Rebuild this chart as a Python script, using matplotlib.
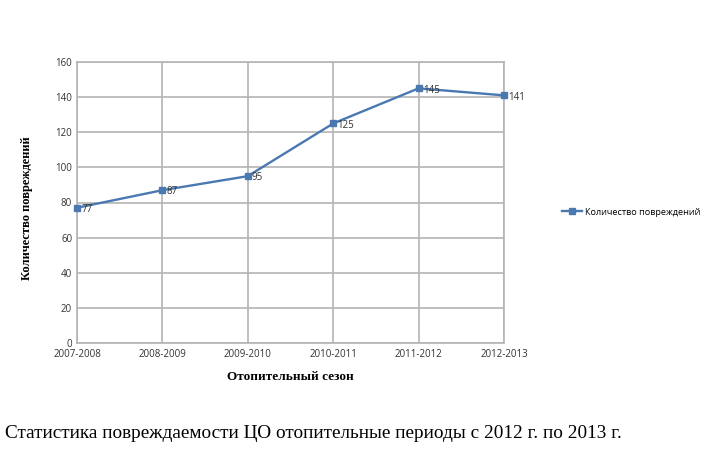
import matplotlib
matplotlib.use('Agg')
import matplotlib.pyplot as plt
import numpy as np

seasons = ['2007-2008', '2008-2009', '2009-2010', '2010-2011', '2011-2012', '2012-2013']
damages = [77, 87, 95, 125, 145, 141]
series_name = 'Количество повреждений'
x_title = 'Отопительный сезон'
y_title = 'Количество повреждений'
caption = 'Статистика повреждаемости ЦО отопительные периоды с 2012 г. по 2013 г.'

line_color = '#4a78b0'
grid_color = '#b4b4b4'

fig = plt.figure(figsize=(7.11, 4.54), dpi=100)
ax = fig.add_axes([77 / 711, 1 - 343 / 454, (504 - 77) / 711, (343 - 62) / 454])

x = np.arange(len(seasons))
ax.plot(x, damages, color=line_color, linewidth=1.7, marker='s', markersize=5,
        label=series_name, zorder=3, clip_on=False)
for xi, v in zip(x, damages):
    ax.annotate(str(v), (xi, v), xytext=(3, -3), textcoords='offset points',
                fontsize=7, color='#333333', family='Open Sans')

ax.set_xlim(0, len(seasons) - 1)
ax.set_ylim(0, 160)
ax.set_yticks(range(0, 161, 20))
ax.set_xticks(x)
ax.set_xticklabels(seasons)
ax.tick_params(length=0, labelsize=7, colors='#333333')
ax.tick_params(axis='x', pad=4)
for lbl in ax.get_xticklabels() + ax.get_yticklabels():
    lbl.set_family('Open Sans')
ax.grid(True, color=grid_color, linewidth=1.2)
ax.set_axisbelow(True)
for s in ax.spines.values():
    s.set_color(grid_color)
    s.set_linewidth(1.2)

fig.text(290 / 711, 1 - 377 / 454, x_title, ha='center', va='center',
         fontsize=9.5, fontweight='bold', family='Liberation Serif')
fig.text(27 / 711, 1 - 208 / 454, y_title, ha='center', va='center', rotation=90,
         fontsize=9, fontweight='bold', family='Liberation Serif')

leg = fig.legend(loc='center left', bbox_to_anchor=(554 / 711, 1 - 212 / 454),
                 frameon=False, prop={'family': 'Open Sans', 'size': 6.6},
                 handlelength=2.2, handletextpad=0.3)

fig.text(5 / 711, 1 - 433 / 454, caption, ha='left', va='center',
         fontsize=13.9, family='Liberation Serif')

fig.savefig('out.png', dpi=100)
